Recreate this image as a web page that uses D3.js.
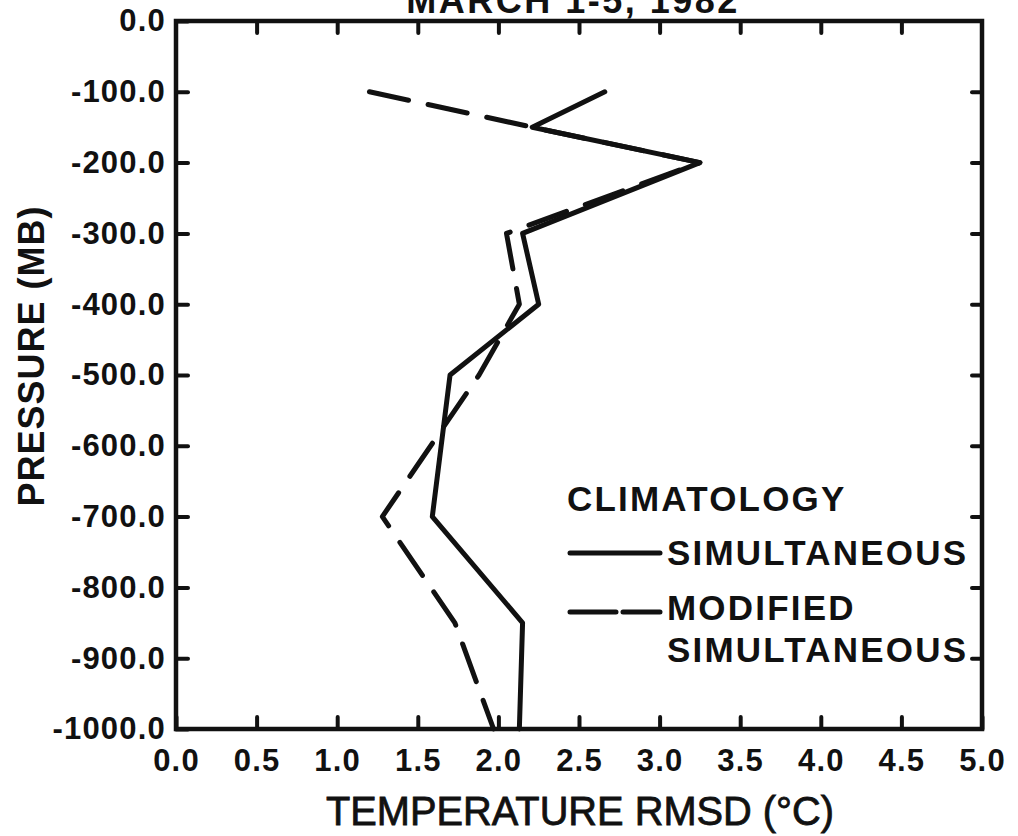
<!DOCTYPE html>
<html>
<head>
<meta charset="utf-8">
<script src="https://cdn.jsdelivr.net/npm/d3@7/dist/d3.min.js"></script>
<style>
  html, body { margin: 0; padding: 0; background: #fff; }
  svg { display: block; }
  text { font-family: "Liberation Sans", Arial, Helvetica, sans-serif; fill: #111; }
</style>
</head>
<body>
<svg id="chart" width="1018" height="836"></svg>
<script>
// ---- data ----
const titleText = "MARCH 1-5, 1982";
const xTitle = "TEMPERATURE RMSD (\u00B0C)";
const yTitle = "PRESSURE (MB)";

const xTicks = [0.0, 0.5, 1.0, 1.5, 2.0, 2.5, 3.0, 3.5, 4.0, 4.5, 5.0];
const xTickLabels = ["0.0","0.5","1.0","1.5","2.0","2.5","3.0","3.5","4.0","4.5","5.0"];
const yTicks = [0, -100, -200, -300, -400, -500, -600, -700, -800, -900, -1000];
const yTickLabels = ["0.0","-100.0","-200.0","-300.0","-400.0","-500.0","-600.0","-700.0","-800.0","-900.0","-1000.0"];

const pressureLevels = [-100, -150, -200, -300, -400, -500, -700, -850, -1000];
const simultaneous   = [2.66, 2.21, 3.25, 2.15, 2.25, 1.70, 1.59, 2.15, 2.13];
const modifiedSimult = [1.20, 2.21, 3.25, 2.05, 2.13, 1.88, 1.28, 1.73, 1.97];

const legendHeader = "CLIMATOLOGY";
const seriesNames = ["SIMULTANEOUS", ["MODIFIED", "SIMULTANEOUS"]];

// ---- layout ----
(function () {
const svg = d3.select("#chart");
const pL = 176, pR = 982, pT = 21, pB = 729;
const x = d3.scaleLinear().domain([0, 5]).range([pL, pR]);
const y = d3.scaleLinear().domain([0, -1000]).range([pT, pB]);
const ink = "#111";

// title (clipped at the top edge, as in the scan)
svg.append("text")
  .attr("x", 573).attr("y", 13)
  .attr("text-anchor", "middle")
  .attr("font-size", 36).attr("font-weight", "bold")
  .attr("letter-spacing", 2.5)
  .text(titleText);

const tickFont = g => g.selectAll("text")
  .attr("font-size", 31).attr("font-weight", "bold")
  .attr("letter-spacing", 1.2).attr("fill", ink)
  .style("font-family", "\"Liberation Sans\", Arial, sans-serif");
const tickLines = g => {
  g.select(".domain").remove();
  g.selectAll("line").attr("stroke", ink).attr("stroke-width", 4).attr("stroke-linecap", "round");
};

svg.append("g").attr("transform", `translate(${pL},0)`)
  .call(d3.axisLeft(y).tickValues(yTicks).tickSizeInner(-12).tickSizeOuter(0).tickPadding(10)
    .tickFormat((d, i) => yTickLabels[i]))
  .call(tickLines).call(tickFont);

svg.append("g").attr("transform", `translate(${pR},0)`)
  .call(d3.axisRight(y).tickValues(yTicks.slice(1, -1)).tickSizeInner(-10).tickSizeOuter(0).tickFormat(""))
  .call(tickLines);

svg.append("g").attr("transform", `translate(0,${pB})`)
  .call(d3.axisBottom(x).tickValues(xTicks).tickSizeInner(-12).tickSizeOuter(0).tickPadding(20)
    .tickFormat((d, i) => xTickLabels[i]))
  .call(tickLines).call(tickFont);

svg.append("g").attr("transform", `translate(0,${pT})`)
  .call(d3.axisTop(x).tickValues(xTicks.slice(1, -1)).tickSizeInner(-12).tickSizeOuter(0).tickFormat(""))
  .call(tickLines);

// frame
svg.append("rect")
  .attr("x", pL).attr("y", pT)
  .attr("width", pR - pL).attr("height", pB - pT)
  .attr("fill", "none").attr("stroke", ink).attr("stroke-width", 4.5);

// axis titles
svg.append("text")
  .attr("x", 580).attr("y", 825)
  .attr("text-anchor", "middle")
  .attr("font-size", 40)
  .attr("textLength", 508).attr("lengthAdjust", "spacingAndGlyphs")
  .attr("stroke", ink).attr("stroke-width", 0.8)
  .text(xTitle);

svg.append("text")
  .attr("transform", "translate(44,356) rotate(-90)")
  .attr("text-anchor", "middle")
  .attr("font-size", 36).attr("font-weight", "bold")
  .attr("letter-spacing", 1)
  .text(yTitle);

// data lines
const line = d3.line().x(d => x(d[0])).y(d => y(d[1]));
const solidPts = pressureLevels.map((p, i) => [simultaneous[i], p]);
const dashPts = pressureLevels.map((p, i) => [modifiedSimult[i], p]);

svg.append("path").datum(dashPts)
  .attr("d", line).attr("fill", "none")
  .attr("stroke", ink).attr("stroke-width", 5)
  .attr("stroke-linecap", "round").attr("stroke-linejoin", "round")
  .attr("stroke-dasharray", "40,20");

svg.append("path").datum(solidPts)
  .attr("d", line).attr("fill", "none")
  .attr("stroke", ink).attr("stroke-width", 5)
  .attr("stroke-linecap", "round").attr("stroke-linejoin", "round");

// legend
const lg = svg.append("g");
const legFont = sel => sel.attr("font-size", 35).attr("font-weight", "bold").attr("letter-spacing", 2.2);
lg.append("text").attr("x", 567).attr("y", 511).text(legendHeader).call(legFont);
lg.append("line").attr("x1", 570).attr("x2", 660).attr("y1", 553).attr("y2", 553)
  .attr("stroke", ink).attr("stroke-width", 5).attr("stroke-linecap", "round");
lg.append("text").attr("x", 667).attr("y", 565).text(seriesNames[0]).call(legFont);
lg.append("line").attr("x1", 570).attr("x2", 660).attr("y1", 612).attr("y2", 612)
  .attr("stroke", ink).attr("stroke-width", 5).attr("stroke-linecap", "round")
  .attr("stroke-dasharray", "46,7");
lg.append("text").attr("x", 667).attr("y", 620).text(seriesNames[1][0]).call(legFont);
lg.append("text").attr("x", 667).attr("y", 662).text(seriesNames[1][1]).call(legFont);
})();
</script>
</body>
</html>
